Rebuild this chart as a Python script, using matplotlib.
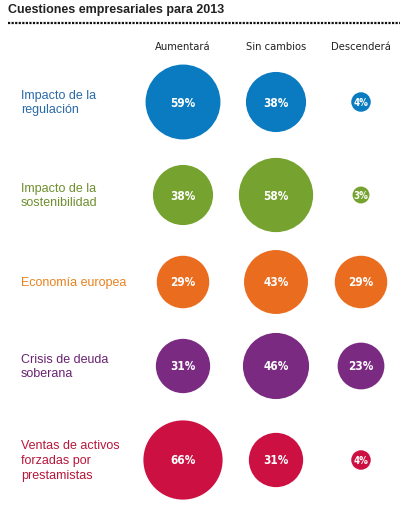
import matplotlib.pyplot as plt
from matplotlib.patches import Circle
import numpy as np

# datos
temas = ["Impacto de la\nregulación", "Impacto de la\nsostenibilidad", "Economía europea",
         "Crisis de deuda\nsoberana", "Ventas de activos\nforzadas por\nprestamistas"]
columnas = ["Aumentará", "Sin cambios", "Descenderá"]
aumentara = [59, 38, 29, 31, 66]
sin_cambios = [38, 58, 43, 46, 31]
descendera = [4, 3, 29, 23, 4]
colores = ["#0a7bc1", "#76a22f", "#e96c1f", "#7b2a82", "#cc1142"]
colores_texto = ["#2a6aa8", "#6e8f2e", "#e8821f", "#6a2272", "#b8163a"]

valores = np.array([aumentara, sin_cambios, descendera]).T

fig = plt.figure(figsize=(4.10, 5.06), dpi=100)
ax = fig.add_axes([0, 0, 1, 1])
ax.set_xlim(0, 410)
ax.set_ylim(506, 0)
ax.set_aspect("equal")
ax.axis("off")

narrow = ["DejaVu Sans"]

ax.text(8, 10, "Cuestiones empresariales para 2013", fontsize=9, fontweight="bold",
        color="#222222", va="center", ha="left", family=["Liberation Sans", "DejaVu Sans"])
ax.plot([8, 400], [24, 24], color="#111111", lw=1.6, linestyle=(0, (1, 0.6)))

col_x = [183, 276, 361]
fila_y = [103, 196, 283, 367, 461]

for x, nombre in zip(col_x, columnas):
    ax.text(x, 47, nombre, fontsize=8, ha="center", va="center", color="#222222",
            family=narrow, fontstretch="condensed")

escala = 9.75 / 2  # radio en px por raiz del porcentaje
for i, (tema, y) in enumerate(zip(temas, fila_y)):
    ax.text(21, y, tema, fontsize=9, ha="left", va="center", color=colores_texto[i],
            linespacing=1.3, family=["Liberation Sans", "DejaVu Sans"])
    for j, x in enumerate(col_x):
        v = valores[i, j]
        ax.add_patch(Circle((x, y), escala * np.sqrt(v), color=colores[i], lw=0))
        ax.text(x, y, f"{v}%", fontsize=8.5 if v > 9 else 7, fontweight="bold", color="white",
                ha="center", va="center", family=narrow, fontstretch="condensed")

fig.savefig("out.png", dpi=100)
